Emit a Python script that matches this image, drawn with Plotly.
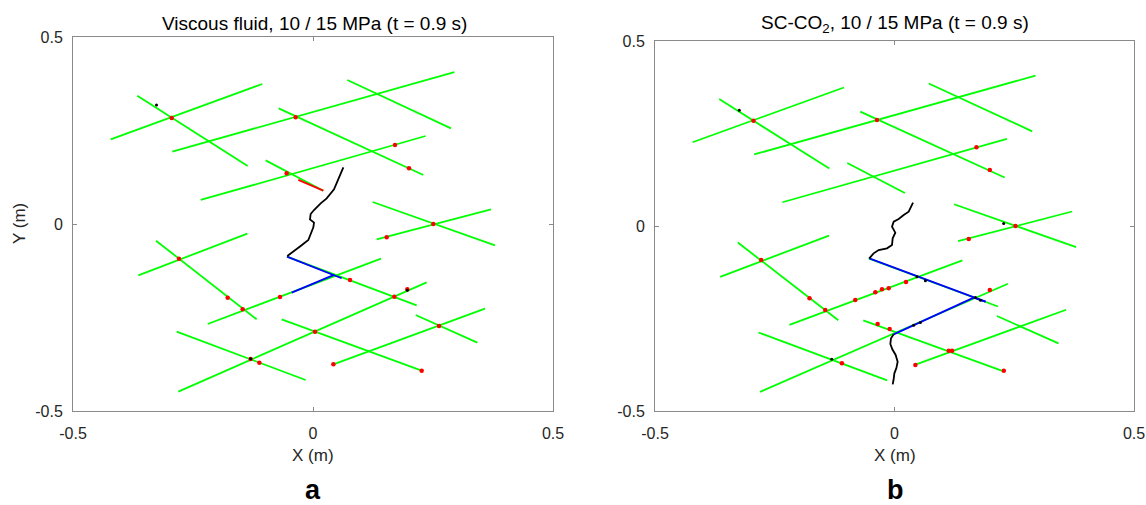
import plotly.graph_objects as go

# ---- Natural fracture network (endpoints in metres), identical in both runs ----
nf_x0 = [-0.4215, -0.3660, -0.2931, 0.0715, -0.0715, -0.2340, -0.0986, 0.1243, 0.1326,
         -0.3639, -0.3271, -0.2194, -0.0542, -0.0653, -0.2806, -0.2840, 0.0424, 0.2139]
nf_y0 = [0.2264, 0.3431, 0.1934, 0.3850, 0.3093, 0.0642, 0.1702, 0.0588, -0.0410,
         -0.1373, -0.0446, -0.2674, -0.0873, -0.2549, -0.4483, -0.2879, -0.3752, -0.2433]
nf_x1 = [-0.1056, -0.1361, 0.2944, 0.2875, 0.2299, 0.2347, 0.0215, 0.3792, 0.3708,
         -0.1368, -0.1174, 0.1417, 0.2160, 0.2264, 0.2368, -0.0153, 0.3583, 0.3424]
nf_y1 = [0.3743, 0.1551, 0.4064, 0.2558, 0.1310, 0.2353, 0.0891, -0.0570, 0.0392,
         -0.0258, -0.2549, -0.0927, -0.2175, -0.3922, -0.1560, -0.4171, -0.2264, -0.3173]

# ---- (a) Viscous fluid ----
hf_a_x = [0.0632, 0.0549, 0.0438, 0.0285, 0.0160, 0.0021, -0.0049, -0.0063, 0.0021,
          0.0007, -0.0049, -0.0097, -0.0257, -0.0410, -0.0535]
hf_a_y = [0.1515, 0.1266, 0.0927, 0.0686, 0.0553, 0.0374, 0.0267, 0.0125, 0.0036,
          -0.0089, -0.0250, -0.0428, -0.0588, -0.0740, -0.0856]
# fluid-filled natural fracture segments (start/end)
fl_a_x0 = [-0.0542, -0.0444]
fl_a_y0 = [-0.0873, -0.1836]
fl_a_x1 = [0.0597, 0.0438]
fl_a_y1 = [-0.1450, -0.1360]
# sheared / slipped segment
sl_a_x0 = [-0.0306]
sl_a_y0 = [0.1180]
sl_a_x1 = [0.0215]
sl_a_y1 = [0.0891]
# slip spots
sp_a_x = [-0.2944, -0.0361, 0.1708, 0.2000, -0.0549, 0.2507, 0.1535, -0.2792, -0.1778,
          -0.1465, -0.0688, 0.0771, 0.1965, 0.1694, 0.0042, 0.2625, -0.1299, -0.1118,
          0.0424, 0.2264]
sp_a_y = [0.2834, 0.2852, 0.2112, 0.1488, 0.1355, 0.0000, -0.0357, -0.0927, -0.1970,
          -0.2282, -0.1952, -0.1497, -0.1747, -0.1943, -0.2879, -0.2727, -0.3610, -0.3708,
          -0.3752, -0.3922]
dk_a_x = [-0.3260, -0.1299, 0.1965]
dk_a_y = [0.3180, -0.3600, -0.1770]

# ---- (b) SC-CO2 ----
hf_b_up_x = [0.0387, 0.0296, 0.0192, 0.0087, -0.0017, -0.0052, 0.0017, -0.0038, -0.0052,
             -0.0157, -0.0331, -0.0436, -0.0526]
hf_b_up_y = [0.0630, 0.0387, 0.0297, 0.0189, 0.0117, -0.0018, -0.0180, -0.0333, -0.0514,
             -0.0604, -0.0649, -0.0739, -0.0874]
hf_b_lo_x = [-0.0017, -0.0073, -0.0087, -0.0045, 0.0024, 0.0066, 0.0038, -0.0003, -0.0017, -0.0038]
hf_b_lo_y = [-0.2928, -0.3036, -0.3189, -0.3333, -0.3486, -0.3667, -0.3847, -0.3982, -0.4135, -0.4279]
fl_b_x0 = [-0.0526, 0.1655, 0.1655]
fl_b_y0 = [-0.0874, -0.1937, -0.1937]
fl_b_x1 = [0.1900, -0.0017, 0.1900]
fl_b_y1 = [-0.2045, -0.2928, -0.2045]
sp_b_x = [-0.2944, -0.0366, 0.1711, 0.1990, 0.2526, 0.1550, -0.2784, -0.1774, -0.1446,
          -0.0819, -0.0401, -0.0261, -0.0122, 0.0240, 0.1990, -0.0352, -0.0101, -0.1098,
          0.1132, 0.1202, 0.0436, 0.2282]
sp_b_y = [0.2847, 0.2865, 0.2126, 0.1514, 0.0000, -0.0351, -0.0919, -0.1955, -0.2270,
          -0.2000, -0.1793, -0.1712, -0.1685, -0.1514, -0.1730, -0.2649, -0.2784, -0.3712,
          -0.3369, -0.3369, -0.3757, -0.3910]
dk_b_x = [0.0470, 0.0645, 0.1690, 0.1795, 0.0540, 0.0400, -0.1310, 0.2280, -0.3240]
dk_b_y = [-0.1370, -0.1480, -0.1930, -0.2010, -0.2610, -0.2680, -0.3600, 0.0070, 0.3130]


def segments(x0, y0, x1, y1):
    xs, ys = [], []
    for a, b, c, d in zip(x0, y0, x1, y1):
        xs += [a, c, None]
        ys += [b, d, None]
    return xs, ys


GREEN, BLUE, RED = "#00ff00", "#0000ff", "#ff0000"
fig = go.Figure()


def add_panel(xa, ya, fluid, slip, spots, dark, hf_paths):
    nx, ny = segments(nf_x0, nf_y0, nf_x1, nf_y1)
    fig.add_trace(go.Scatter(x=nx, y=ny, mode="lines", line=dict(color=GREEN, width=1.8),
                             xaxis=xa, yaxis=ya, hoverinfo="skip"))
    if slip:
        sx, sy = segments(*slip)
        fig.add_trace(go.Scatter(x=sx, y=sy, mode="lines", line=dict(color=RED, width=1.8),
                                 xaxis=xa, yaxis=ya, hoverinfo="skip"))
    fx, fy = segments(*fluid)
    fig.add_trace(go.Scatter(x=fx, y=fy, mode="lines", line=dict(color=BLUE, width=1.8),
                             xaxis=xa, yaxis=ya, hoverinfo="skip"))
    for px, py in hf_paths:
        fig.add_trace(go.Scatter(x=px, y=py, mode="lines", line=dict(color="black", width=1.8),
                                 xaxis=xa, yaxis=ya, hoverinfo="skip"))
    fig.add_trace(go.Scatter(x=spots[0], y=spots[1], mode="markers",
                             marker=dict(color=RED, size=4.5, line=dict(width=0)),
                             xaxis=xa, yaxis=ya, hoverinfo="skip"))
    fig.add_trace(go.Scatter(x=dark[0], y=dark[1], mode="markers",
                             marker=dict(color="black", size=3, line=dict(width=0)),
                             xaxis=xa, yaxis=ya, hoverinfo="skip"))


add_panel("x", "y", (fl_a_x0, fl_a_y0, fl_a_x1, fl_a_y1),
          (sl_a_x0, sl_a_y0, sl_a_x1, sl_a_y1), (sp_a_x, sp_a_y), (dk_a_x, dk_a_y),
          [(hf_a_x, hf_a_y)])
add_panel("x2", "y2", (fl_b_x0, fl_b_y0, fl_b_x1, fl_b_y1), None,
          (sp_b_x, sp_b_y), (dk_b_x, dk_b_y),
          [(hf_b_up_x, hf_b_up_y), (hf_b_lo_x, hf_b_lo_y)])

W, H = 1146, 505
FONT = "Liberation Sans, Arial, sans-serif"
tick_vals = [-0.5, 0, 0.5]
tick_text = ["-0.5", "0", "0.5"]

axis_common = dict(range=[-0.5, 0.5], showgrid=False, zeroline=False, showline=True,
                   mirror="ticks", linecolor="#8a8a8a", linewidth=1, ticks="inside",
                   ticklen=4, tickcolor="#8a8a8a", tickvals=tick_vals, ticktext=tick_text,
                   automargin=False,
                   tickfont=dict(family=FONT, size=16, color="#262626"), fixedrange=True)

fig.update_layout(
    width=W, height=H, margin=dict(l=0, r=0, t=0, b=0, autoexpand=False),
    paper_bgcolor="white", plot_bgcolor="white", showlegend=False,
    xaxis=dict(domain=[73 / W, 553 / W], anchor="y", ticklabelstandoff=8, **axis_common),
    yaxis=dict(domain=[1 - 411 / H, 1 - 37 / H], anchor="x", ticklabelstandoff=6, **axis_common),
    xaxis2=dict(domain=[655 / W, 1134 / W], anchor="y2", ticklabelstandoff=8, **axis_common),
    yaxis2=dict(domain=[1 - 411 / H, 1 - 41 / H], anchor="x2", ticklabelstandoff=6, **axis_common),
)


def label(text, px, py, size, bold=False, angle=0, color="black"):
    fig.add_annotation(text=f"<b>{text}</b>" if bold else text, x=px / W, y=1 - py / H,
                       xref="paper", yref="paper", showarrow=False, textangle=angle,
                       xanchor="center", yanchor="middle",
                       font=dict(family=FONT, size=size, color=color))


label("Viscous fluid, 10 / 15 MPa (t = 0.9 s)", 314, 23, 19)
label("SC-CO<sub>2</sub>, 10 / 15 MPa (t = 0.9 s)", 895, 24, 19)
label("X (m)", 313, 455, 17, color="#262626")
label("X (m)", 895, 455, 17, color="#262626")
label("Y (m)", 20, 224, 17, angle=-90, color="#262626")
label("a", 313, 490, 27, bold=True)
label("b", 895, 490, 27, bold=True)

fig.write_html("out.html")
